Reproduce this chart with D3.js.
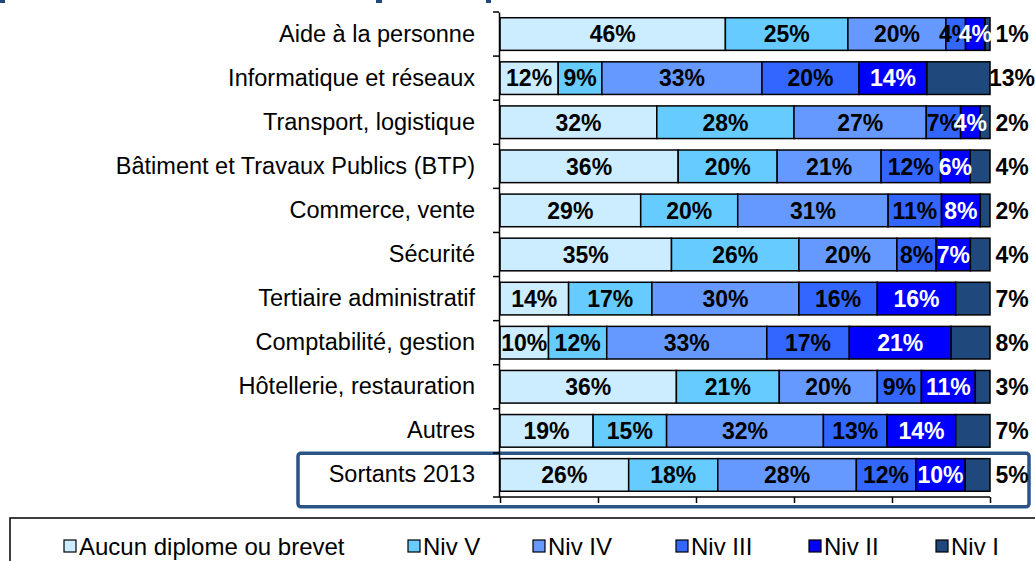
<!DOCTYPE html>
<html>
<head>
<meta charset="utf-8">
<script src="https://cdn.jsdelivr.net/npm/d3@7"></script>
<style>
  html, body { margin: 0; padding: 0; background: #fff; }
  svg { display: block; }
  text { font-family: Arial, "Liberation Sans", sans-serif; }
</style>
</head>
<body>
<svg id="chart" width="1035" height="561"></svg>
<script>
// Formation categories (top to bottom)
const categories = [
  "Aide à la personne",
  "Informatique et réseaux",
  "Transport, logistique",
  "Bâtiment et Travaux Publics (BTP)",
  "Commerce, vente",
  "Sécurité",
  "Tertiaire administratif",
  "Comptabilité, gestion",
  "Hôtellerie, restauration",
  "Autres",
  "Sortants 2013"
];

// Diploma levels (stack order, left to right)
const levels = ["Aucun diplome ou brevet", "Niv V", "Niv IV", "Niv III", "Niv II", "Niv I"];

// Share of each level per category (%)
const aucunDiplome = [46, 12, 32, 36, 29, 35, 14, 10, 36, 19, 26];
const nivV         = [25,  9, 28, 20, 20, 26, 17, 12, 21, 15, 18];
const nivIV        = [20, 33, 27, 21, 31, 20, 30, 33, 20, 32, 28];
const nivIII       = [ 4, 20,  7, 12, 11,  8, 16, 17,  9, 13, 12];
const nivII        = [ 4, 14,  4,  6,  8,  7, 16, 21, 11, 14, 10];
const nivI         = [ 1, 13,  2,  4,  2,  4,  7,  8,  3,  7,  5];

// Axis ticks along the value axis (unlabelled)
const xTicks = [0, 0.2, 0.4, 0.6, 0.8, 1];

const seriesValues = [aucunDiplome, nivV, nivIV, nivIII, nivII, nivI];
const colors = ["#CCECFF", "#66CCFF", "#6699FF", "#3366FF", "#0000FF", "#1F497D"];
const labelColors = ["#000", "#000", "#000", "#000", "#fff", "#000"];

const rows = categories.map((c, i) => {
  const r = { category: c };
  levels.forEach((lv, j) => { r[lv] = seriesValues[j][i]; });
  return r;
});

const svg = d3.select("#chart");
const margin = { left: 499, right: 45, top: 12, bottom: 64 };
const W = 1035, H = 561;

const x = d3.scaleLinear().domain([0, 1]).range([margin.left + 1, W - margin.right]);
const y = d3.scaleBand().domain(categories).range([margin.top, H - margin.bottom]).paddingInner(0.26).paddingOuter(0.13);

const stack = d3.stack().keys(levels).offset(d3.stackOffsetExpand);
const stacked = stack(rows);

// Fragments of the frame above the chart
const topFrag = [[0, 5], [376, 6], [486, 5]];
svg.selectAll("rect.frag").data(topFrag).join("rect")
  .attr("class", "frag")
  .attr("x", d => d[0]).attr("y", 0).attr("width", d => d[1]).attr("height", 3)
  .attr("fill", "#1F497D");

// Highlight frame around the overall row
const last = categories[categories.length - 1];
svg.append("rect")
  .attr("x", 298).attr("y", y(last) - 5.5)
  .attr("width", 731).attr("height", y.bandwidth() + 21)
  .attr("rx", 3)
  .attr("fill", "#fff")
  .attr("stroke", "#2B5486")
  .attr("stroke-width", 3.5);

// Bars
const groups = svg.selectAll("g.series").data(stacked).join("g")
  .attr("class", "series")
  .attr("fill", (d, i) => colors[i]);

groups.selectAll("rect").data(d => d).join("rect")
  .attr("x", d => x(d[0]))
  .attr("y", d => y(d.data.category))
  .attr("width", d => x(d[1]) - x(d[0]))
  .attr("height", y.bandwidth())
  .attr("stroke", "#000")
  .attr("stroke-width", 1.5);

// Segment labels
stacked.forEach((s, i) => {
  const inside = i < levels.length - 1;
  svg.append("g").selectAll("text").data(s).join("text")
    .attr("x", d => inside ? (x(d[0]) + x(d[1])) / 2 : x(1) + 22)
    .attr("y", d => y(d.data.category) + y.bandwidth() / 2)
    .attr("dy", "0.36em")
    .attr("text-anchor", "middle")
    .attr("font-size", 23)
    .attr("font-weight", "bold")
    .attr("fill", labelColors[i])
    .text(d => d.data[s.key] + "%");
});

// Category axis
const yAxis = svg.append("g")
  .attr("transform", `translate(${margin.left},0)`)
  .call(d3.axisLeft(y).tickSize(0).tickPadding(24));
yAxis.select(".domain").attr("stroke", "#000").attr("stroke-width", 1.5);
yAxis.selectAll("text").attr("font-size", 23.5).attr("fill", "#000");
// Tick marks between categories
const bounds = categories.map(c => y(c) - y.step() * y.paddingInner() / 2);
bounds.push(H - margin.bottom);
yAxis.selectAll("line.sep").data(bounds).join("line")
  .attr("class", "sep")
  .attr("x1", -6).attr("x2", 0)
  .attr("y1", d => d).attr("y2", d => d)
  .attr("stroke", "#000").attr("stroke-width", 1.5);

// Value axis (no labels)
const xAxis = svg.append("g")
  .attr("transform", `translate(0,${H - margin.bottom})`)
  .call(d3.axisBottom(x).tickValues(xTicks).tickSize(6).tickFormat(""));
xAxis.select(".domain").attr("stroke", "#000").attr("stroke-width", 1.5).attr("d", `M${margin.left},0H${x(1)}`);
xAxis.selectAll(".tick line").attr("stroke", "#000").attr("stroke-width", 1.5);

// Legend
svg.append("rect")
  .attr("x", 10).attr("y", 518).attr("width", 1040).attr("height", 60)
  .attr("fill", "none").attr("stroke", "#000").attr("stroke-width", 1.5);

const legendX = [64, 408, 533, 676, 809, 936];
const legend = svg.append("g").selectAll("g").data(levels).join("g")
  .attr("transform", (d, i) => `translate(${legendX[i]},540)`);
legend.append("rect")
  .attr("width", 12).attr("height", 12)
  .attr("fill", (d, i) => colors[i])
  .attr("stroke", "#000").attr("stroke-width", 1.2);
legend.append("text")
  .attr("x", 15).attr("y", 6).attr("dy", "0.36em")
  .attr("font-size", 24)
  .text(d => d);
</script>
</body>
</html>
